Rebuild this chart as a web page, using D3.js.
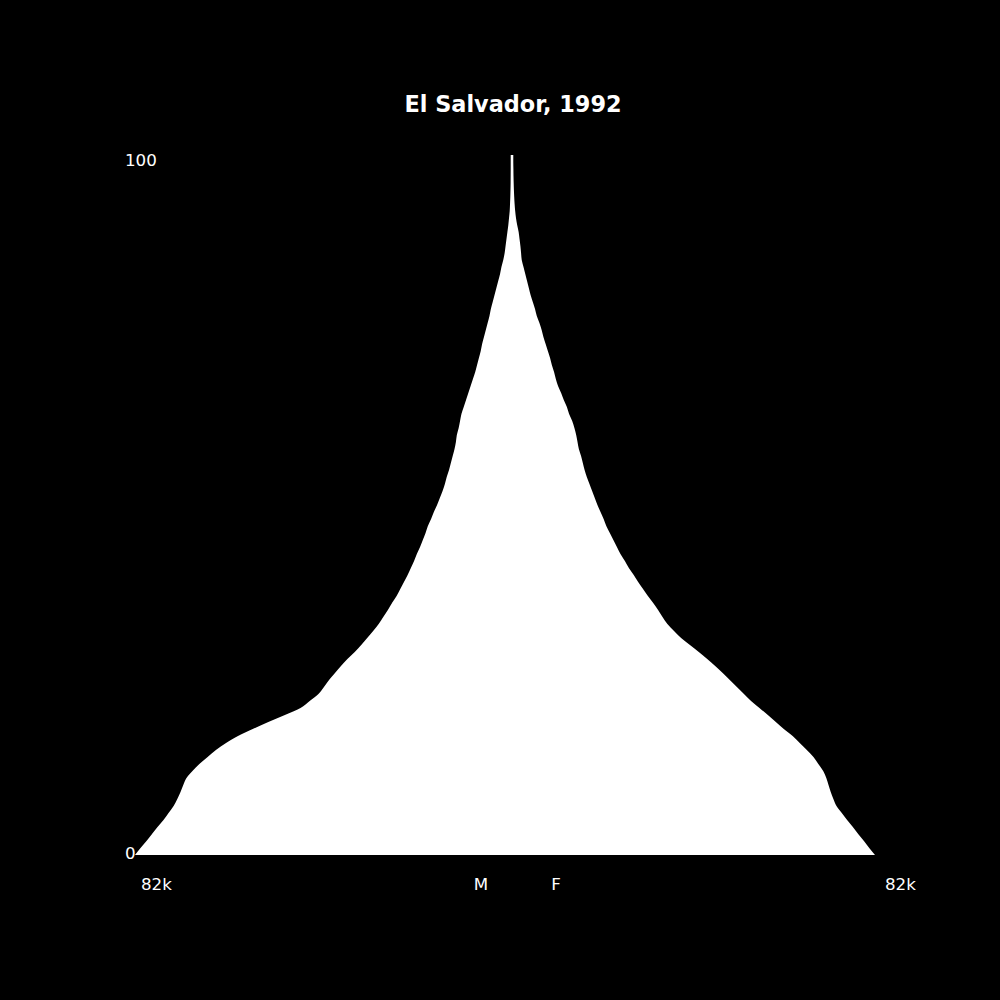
<!DOCTYPE html>
<html>
<head>
<meta charset="utf-8">
<script src="https://cdn.jsdelivr.net/npm/d3@7"></script>
<style>
  html, body { margin: 0; padding: 0; background: #000; }
  svg { display: block; }
  text { font-family: "DejaVu Sans", sans-serif; fill: #fff; }
</style>
</head>
<body>
<svg id="chart" width="1000" height="1000"></svg>
<script>
const title = "El Salvador, 1992";
const ages = d3.range(0, 101);
// population in thousands, single-year ages 0..100
const male = [
  82.0, 80.8, 79.5, 78.3, 77.1, 75.8, 74.7, 73.6, 72.8, 72.1,
  71.5, 70.8, 69.5, 68.0, 66.2, 64.4, 62.2, 59.6, 56.4, 53.0,
  49.4, 46.0, 44.0, 42.1, 40.9, 39.8, 38.5, 37.2, 35.8, 34.2,
  32.8, 31.5, 30.2, 29.0, 28.0, 27.0, 26.1, 25.1, 24.3, 23.5,
  22.7, 22.0, 21.3, 20.7, 20.0, 19.4, 18.8, 18.3, 17.6, 17.0,
  16.3, 15.7, 15.1, 14.6, 14.2, 13.7, 13.3, 12.9, 12.5, 12.2,
  12.0, 11.6, 11.3, 11.0, 10.5, 10.0, 9.5, 9.0, 8.5, 8.0,
  7.6, 7.2, 6.8, 6.5, 6.1, 5.7, 5.3, 4.9, 4.6, 4.2,
  3.8, 3.4, 3.0, 2.6, 2.3, 1.9, 1.6, 1.4, 1.2, 1.0,
  0.8, 0.65, 0.5, 0.43, 0.37, 0.33, 0.30, 0.29, 0.28, 0.28,
  0.28
];
const female = [
  82.0, 80.7, 79.5, 78.2, 77.0, 75.7, 74.5, 73.3, 72.6, 72.0,
  71.5, 71.0, 70.3, 69.2, 68.1, 66.6, 65.0, 63.4, 61.4, 59.6,
  57.8, 55.9, 54.0, 52.4, 50.8, 49.2, 47.6, 45.9, 44.1, 42.2,
  40.2, 38.2, 36.6, 35.1, 34.0, 33.0, 31.9, 30.7, 29.6, 28.5,
  27.5, 26.4, 25.5, 24.5, 23.7, 22.9, 22.1, 21.3, 20.7, 20.0,
  19.3, 18.7, 18.1, 17.5, 16.9, 16.4, 16.0, 15.6, 15.1, 14.8,
  14.5, 14.1, 13.6, 12.9, 12.4, 11.7, 11.1, 10.4, 9.9, 9.5,
  9.0, 8.6, 8.1, 7.6, 7.1, 6.7, 6.2, 5.6, 5.2, 4.7,
  4.2, 3.8, 3.4, 3.0, 2.6, 2.2, 2.05, 1.9, 1.7, 1.5,
  1.17, 0.9, 0.72, 0.59, 0.50, 0.43, 0.38, 0.34, 0.32, 0.29,
  0.29
];
const xMax = 82;
const xTickLabels = ["82k", "82k"];
const sexLabels = ["M", "F"];
const yTicks = [0, 100];

const svg = d3.select("#chart");
const cx = 512;
const xm = d3.scaleLinear().domain([0, xMax]).range([cx, 135]);
const xf = d3.scaleLinear().domain([0, xMax]).range([cx, 875]);
const y = d3.scaleLinear().domain([0, 100]).range([855, 155]);

const rows = ages.map((a, i) => ({age: a, m: male[i], f: female[i]}));

const area = d3.area()
  .y(d => y(d.age))
  .x0(d => xm(d.m))
  .x1(d => xf(d.f))
  .curve(d3.curveMonotoneY);

svg.append("path")
  .datum(rows)
  .attr("d", area)
  .attr("fill", "#fff")
  .attr("stroke", "none");

svg.append("text")
  .attr("x", cx + 1)
  .attr("y", 112)
  .attr("text-anchor", "middle")
  .style("font-size", "22.4px")
  .style("font-weight", "bold")
  .text(title);

// y tick labels
svg.selectAll("text.ytick")
  .data(yTicks)
  .enter().append("text")
  .attr("class", "ytick")
  .attr("x", 125)
  .attr("y", d => (d === 0 ? y(d) + 4 : y(d) + 11))
  .style("font-size", "16.7px")
  .text(d => d);

// x labels
svg.append("text")
  .attr("x", xm(xMax) + 6)
  .attr("y", 890)
  .style("font-size", "16.7px")
  .text(xTickLabels[0]);
svg.append("text")
  .attr("x", xf(xMax) + 10)
  .attr("y", 890)
  .style("font-size", "16.7px")
  .text(xTickLabels[1]);
svg.append("text")
  .attr("x", 481)
  .attr("y", 890)
  .attr("text-anchor", "middle")
  .style("font-size", "16.7px")
  .text(sexLabels[0]);
svg.append("text")
  .attr("x", 556)
  .attr("y", 890)
  .attr("text-anchor", "middle")
  .style("font-size", "16.7px")
  .text(sexLabels[1]);
</script>
</body>
</html>
